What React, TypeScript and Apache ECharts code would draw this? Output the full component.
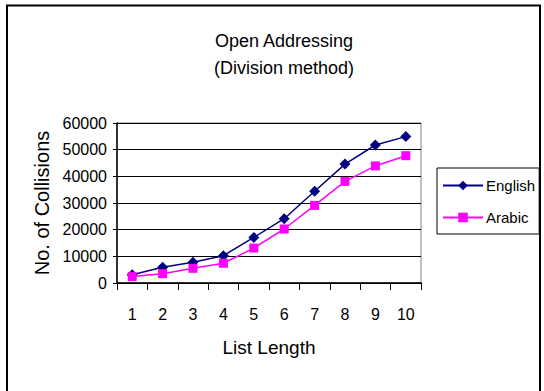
import React, { useEffect, useRef } from "react";
import * as echarts from "echarts";

const categories = ["1", "2", "3", "4", "5", "6", "7", "8", "9", "10"];
const english = [3100, 5900, 7750, 10250, 17100, 24100, 34400, 44600, 51750, 54900];
const arabic = [2400, 3500, 5500, 7400, 13100, 20250, 29100, 38100, 43900, 47750];
const titleLines = ["Open Addressing", "(Division method)"];

const FONT = "'Liberation Sans', Arial, sans-serif";

export default function App() {
  const ref = useRef<HTMLDivElement>(null);
  useEffect(() => {
    if (!ref.current) return;
    const chart = echarts.init(ref.current, null, { renderer: "svg" });
    chart.setOption({
      animation: false,
      backgroundColor: "#fff",
      textStyle: { fontFamily: FONT, color: "#000" },
      title: {
        text: titleLines.join("\n"),
        left: 279,
        top: 22,
        textAlign: "center",
        textStyle: { fontFamily: FONT, fontSize: 18, fontWeight: "normal", color: "#000", lineHeight: 27 },
      },
      graphic: [
        {
          type: "rect",
          shape: { x: 7, y: 5.5, width: 533, height: 420 },
          style: { fill: "none", stroke: "#000", lineWidth: 2 },
          silent: true,
        },
      ],
      legend: {
        orient: "vertical",
        left: 437,
        top: 168,
        padding: [10, 4, 9, 5],
        itemGap: 17,
        itemWidth: 40,
        itemHeight: 12,
        borderColor: "#000",
        borderWidth: 1,
        textStyle: { fontFamily: FONT, fontSize: 15, color: "#000", padding: [0, 0, 0, -2] },
        data: ["English", "Arabic"],
      },
      grid: {
        left: 117,
        right: 123,
        top: 123,
        bottom: 108,
        show: true,
        borderColor: "#808080",
        borderWidth: 1,
      },
      xAxis: {
        type: "category",
        data: categories,
        boundaryGap: true,
        name: "List Length",
        nameLocation: "middle",
        nameGap: 55,
        nameTextStyle: { fontFamily: FONT, fontSize: 19, color: "#000" },
        axisLine: { lineStyle: { color: "#000", width: 1.5 } },
        axisTick: { show: true, length: 7, lineStyle: { color: "#000" } },
        axisLabel: { fontFamily: FONT, fontSize: 16, color: "#000", margin: 23 },
      },
      yAxis: {
        type: "value",
        min: 0,
        max: 60000,
        interval: 10000,
        name: "No. of Collisions",
        nameLocation: "middle",
        nameGap: 64,
        nameTextStyle: { fontFamily: FONT, fontSize: 20, color: "#000" },
        axisLine: { show: true, lineStyle: { color: "#000", width: 1.5 } },
        axisTick: { show: true, length: 4, lineStyle: { color: "#000" } },
        axisLabel: {
          fontFamily: FONT,
          fontSize: 16,
          color: "#000",
          margin: 10,
          formatter: (v: number) => String(v),
        },
        splitLine: { show: true, lineStyle: { color: "#000", width: 1 } },
      },
      series: [
        {
          name: "English",
          type: "line",
          data: english,
          symbol: "diamond",
          symbolSize: 11,
          itemStyle: { color: "#000080" },
          lineStyle: { color: "#000080", width: 1.5 },
        },
        {
          name: "Arabic",
          type: "line",
          data: arabic,
          symbol: "rect",
          symbolSize: 9,
          itemStyle: { color: "#FF00FF" },
          lineStyle: { color: "#FF00FF", width: 1.5 },
        },
      ],
    });
    return () => chart.dispose();
  }, []);
  return (
    <div
      ref={ref}
      style={{ position: "fixed", left: 0, top: 0, width: 544, height: 391 }}
    />
  );
}
